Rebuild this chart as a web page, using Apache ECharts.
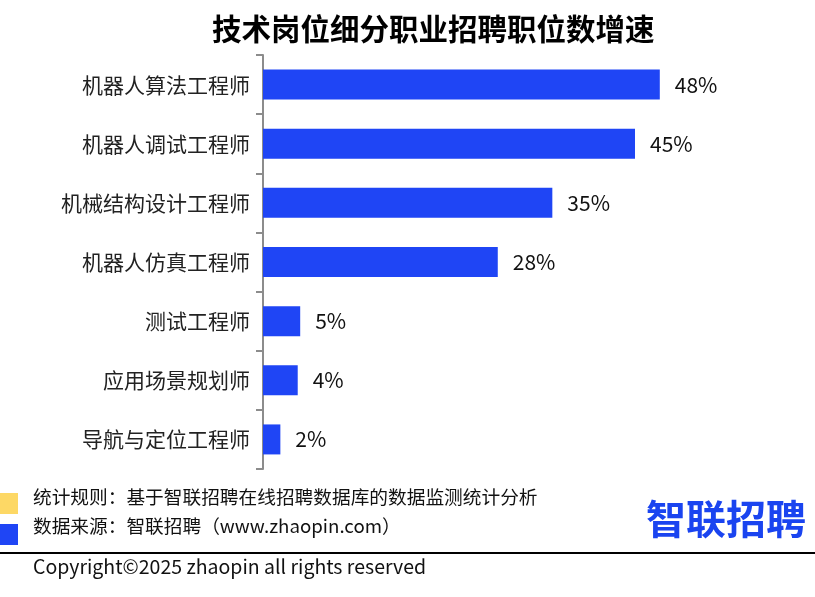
<!DOCTYPE html>
<html>
<head>
<meta charset="utf-8">
<script src="https://cdn.jsdelivr.net/npm/echarts@6/dist/echarts.min.js"></script>
<style>html,body{margin:0;padding:0;background:#fff;}#main{width:815px;height:597px;}</style>
</head>
<body>
<div id="main"></div>
<script>
var titleText = '技术岗位细分职业招聘职位数增速';
var categories = ['机器人算法工程师','机器人调试工程师','机械结构设计工程师','机器人仿真工程师','测试工程师','应用场景规划师','导航与定位工程师'];
var growth = [48, 45, 35, 28.4, 4.5, 4.2, 2.1];
var noteRule = '统计规则：基于智联招聘在线招聘数据库的数据监测统计分析';
var noteSource = '数据来源：智联招聘（www.zhaopin.com）';
var copyright = 'Copyright©2025 zhaopin all rights reserved';
var logoText = '智联招聘';

var FONT = '"Noto Sans CJK SC", "Noto Sans", sans-serif';
var chart = echarts.init(document.getElementById('main'));
chart.setOption({
  animation: false,
  backgroundColor: '#fff',
  title: {
    text: titleText, left: 207, top: 9,
    textStyle: {fontFamily: FONT, fontSize: 29.5, fontWeight: 'bold', color: '#000'}
  },
  grid: {left: 263, top: 55, width: 496, height: 414, containLabel: false},
  xAxis: {type: 'value', min: 0, max: 60, show: false},
  yAxis: {
    type: 'category', data: categories, inverse: true,
    axisLine: {show: true, lineStyle: {color: '#8c8c8c', width: 2}},
    axisTick: {show: true, length: 7, lineStyle: {color: '#8c8c8c', width: 2}},
    axisLabel: {margin: 13, fontFamily: FONT, fontSize: 21, color: '#222'}
  },
  series: [{
    type: 'bar', data: growth, barWidth: 30,
    itemStyle: {color: '#1f45f5'},
    label: {
      show: true, position: 'right', distance: 15,
      fontFamily: FONT, fontSize: 21, color: '#111',
      formatter: function (p) { return Math.round(p.value) + '%'; }
    }
  }],
  graphic: [
    {type: 'rect', shape: {x: 0, y: 493, width: 18, height: 21}, style: {fill: '#fdd865'}},
    {type: 'rect', shape: {x: 0, y: 524, width: 18, height: 21}, style: {fill: '#1f45f5'}},
    {type: 'text', left: 33, top: 488, style: {text: noteRule, fontFamily: FONT, fontSize: 18.7, fill: '#111'}},
    {type: 'text', left: 33, top: 517, style: {text: noteSource, fontFamily: FONT, fontSize: 18.7, fill: '#111'}},
    {type: 'rect', shape: {x: 0, y: 552, width: 815, height: 2}, style: {fill: '#000'}},
    {type: 'text', left: 33, top: 557, style: {text: copyright, fontFamily: FONT, fontSize: 19.5, fill: '#111'}},
    {type: 'text', left: 646, top: 499, style: {text: logoText, fontFamily: FONT, fontSize: 40, fontWeight: 'bold', fill: '#1a44f0'}}
  ]
});
</script>
</body>
</html>
